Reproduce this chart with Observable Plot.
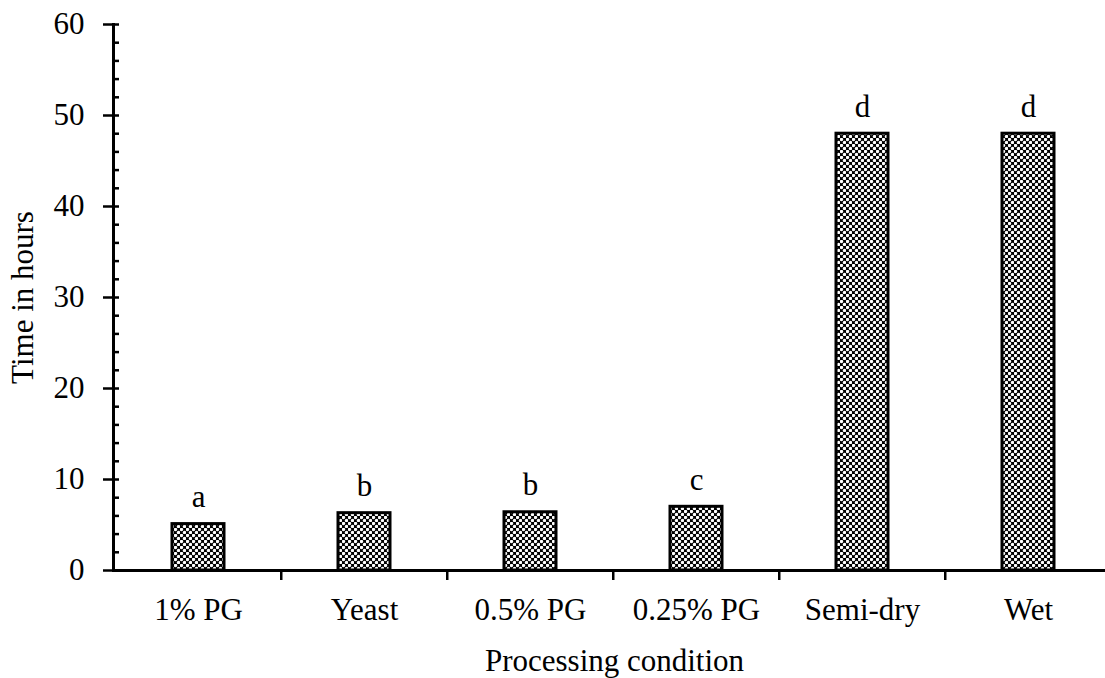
<!DOCTYPE html>
<html><head><meta charset="utf-8">
<script src="https://cdn.jsdelivr.net/npm/d3@7"></script>
<script src="https://cdn.jsdelivr.net/npm/@observablehq/plot@0.6"></script>
<style>body{margin:0;background:#fff;}</style>
</head><body><div id="chart"></div>
<script>
const categories = ["1% PG", "Yeast", "0.5% PG", "0.25% PG", "Semi-dry", "Wet"];
const hours = [5.1, 6.3, 6.4, 7.0, 48, 48];
const letters = ["a", "b", "b", "c", "d", "d"];
const yTicks = [0, 10, 20, 30, 40, 50, 60];
const yMinorTicks = [2, 4, 6, 8, 10, 12, 14, 16, 18, 20, 22, 24, 26, 28, 30, 32, 34, 36, 38, 40, 42, 44, 46, 48, 50, 52, 54, 56, 58, 60];

const data = categories.map((c, i) => ({cat: c, hours: hours[i], letter: letters[i]}));

const W = 1105, H = 678, ML = 113, MR = 0, MT = 24, MB = 108;
const FS = 31;
const xRange = [ML, 1112];
const step = (xRange[1] - xRange[0]) / categories.length;

const svg = Plot.plot({
  width: W, height: H,
  marginLeft: ML, marginRight: MR, marginTop: MT, marginBottom: MB,
  style: {fontFamily: "'Liberation Serif', 'Times New Roman', serif", fontSize: FS + "px", color: "#000", background: "#fff"},
  x: {type: "band", domain: categories, range: xRange, padding: 0},
  y: {domain: [0, 60]},
  marks: [
    Plot.barY(data, {x: "cat", y: "hours", fill: "url(#dots)", stroke: "#000", strokeWidth: 3, insetLeft: 57, insetRight: 57}),
    Plot.text(data, {x: "cat", y: "hours", text: "letter", dy: -27, fontSize: FS, fill: "#000"}),
    Plot.ruleY([0], {stroke: "#000", strokeWidth: 3}),
    Plot.frame({anchor: "left", stroke: "#000", strokeWidth: 3}),
    Plot.ruleY(yMinorTicks, {stroke: "#000", strokeWidth: 2.5, insetRight: W - ML - MR - 6}),
    Plot.axisY(yTicks, {tickSize: 10, tickPadding: 19, fontSize: FS, label: null, strokeWidth: 2.5}),
    Plot.axisX({tickSize: 0, tickPadding: 27, fontSize: FS, label: null}),
    Plot.ruleX(categories.slice(1), {x: d => d, dx: -step / 2, y1: 0, y2: -1.1, stroke: "#000", strokeWidth: 2.5}),
    Plot.text(["Processing condition"], {frameAnchor: "bottom", dy: 100, dx: 5, fontSize: FS, fill: "#000"}),
    Plot.text(["Time in hours"], {frameAnchor: "left", textAnchor: "middle", rotate: -90, dx: -90, fontSize: FS, fill: "#000"})
  ]
});

// dotted pattern fill
const ns = "http://www.w3.org/2000/svg";
const defs = document.createElementNS(ns, "defs");
const pat = document.createElementNS(ns, "pattern");
pat.setAttribute("id", "dots");
pat.setAttribute("patternUnits", "userSpaceOnUse");
pat.setAttribute("width", "6");
pat.setAttribute("height", "6");
const bg = document.createElementNS(ns, "rect");
bg.setAttribute("width", "6"); bg.setAttribute("height", "6"); bg.setAttribute("fill", "#000");
pat.appendChild(bg);
[[1.5, 1.5], [4.5, 4.5]].forEach(([cx, cy]) => {
  const c = document.createElementNS(ns, "circle");
  c.setAttribute("cx", cx); c.setAttribute("cy", cy); c.setAttribute("r", "1.7"); c.setAttribute("fill", "#fff");
  pat.appendChild(c);
});
defs.appendChild(pat);
svg.insertBefore(defs, svg.firstChild);

document.getElementById("chart").appendChild(svg);
</script>
</body></html>
